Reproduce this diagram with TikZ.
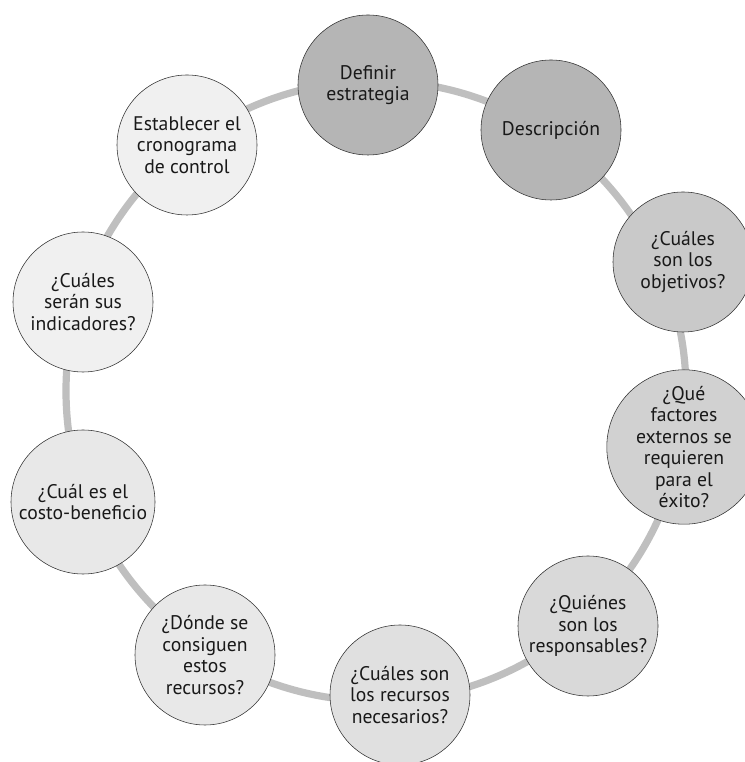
\documentclass[tikz,border=0pt]{standalone}
\usepackage{fontspec}
\setmainfont{PT Sans}
\definecolor{ring}{gray}{0.75}
\definecolor{g1}{gray}{0.71}
\definecolor{g2}{gray}{0.79}
\definecolor{g3}{gray}{0.82}
\definecolor{g4}{gray}{0.85}
\definecolor{g5}{gray}{0.88}
\definecolor{g6}{gray}{0.91}
\definecolor{g7}{gray}{0.94}
\begin{document}
\begin{tikzpicture}[thin,
		main node/.style = {circle,draw=black!80, inner sep = 0pt, minimum size = 3.5cm,
			align=center, text=black!90, font=\fontsize{14}{15.2}\selectfont}]
		\useasboundingbox (0,0) rectangle (18.625,19.05);
		
		\draw[ring, line width=0.18cm] (9.4,9.275) circle (7.75cm);
		
		\node[main node,fill=g1] at (9.2,16.925) (1) {Definir\\estrategia};
		\node[main node,fill=g1] at (13.775,15.8) (2) {Descripción};
		\node[main node,fill=g2] at (17.075,12.5) (3) {¿Cuáles\\son los\\objetivos?};
		\node[main node,fill=g3,minimum size=3.7cm] at (17.1,7.875) (4) {¿Qué\\factores\\externos se\\requieren\\para el\\éxito?};
		\node[main node,fill=g4] at (14.7,3.4) (5) {¿Quiénes\\son los\\responsables?};
		\node[main node,fill=g5] at (10.0,1.675) (6) {¿Cuáles son\\los recursos\\necesarios?};
		\node[main node,fill=g6] at (5.125,2.675) (7) {¿Dónde se\\consiguen\\estos\\recursos?};
		\node[main node,fill=g6,minimum size=3.6cm] at (2.075,6.5) (8) {¿Cuál es el\\costo-beneficio};
		\node[main node,fill=g7] at (2.075,11.5) (9) {¿Cuáles\\serán sus\\indicadores?};
		\node[main node,fill=g7] at (4.675,15.425) (10) {Establecer el\\cronograma\\de control};
\end{tikzpicture}
\end{document}
